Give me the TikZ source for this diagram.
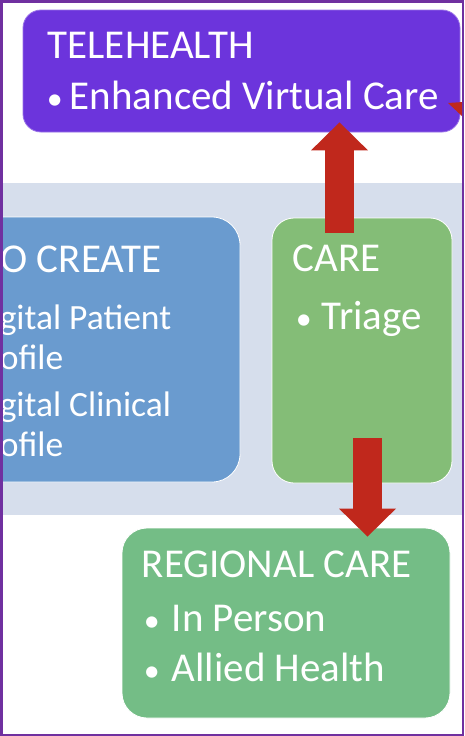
\documentclass[tikz,border=0pt]{standalone}
\usepackage{fontspec}
\setmainfont{Carlito}
\usepackage{xcolor}
\usepackage{tikz}
\usetikzlibrary{arrows.meta, positioning}

\definecolor{telepurple}{RGB}{108,52,220}
\definecolor{framepurple}{RGB}{112,48,160}
\definecolor{bandblue}{RGB}{214,222,236}
\definecolor{createblue}{RGB}{106,155,207}
\definecolor{caregreen}{RGB}{132,189,119}
\definecolor{regiongreen}{RGB}{116,189,134}
\definecolor{arrowred}{RGB}{192,40,28}

\newcommand{\bulmark}[1]{\makebox[#1][l]{\scalebox{0.78}{•}}}

\begin{document}
\begin{tikzpicture}[x=1pt, y=-1pt,
  panel/.style={draw=white, line width=0.8pt, inner sep=0pt},
  boxtext/.style={text=white, inner sep=0pt, anchor=base west,
                  font=\fontsize{41}{48}\selectfont},
  smalltext/.style={text=white, inner sep=0pt, anchor=base west,
                    font=\fontsize{35.5}{42}\selectfont},
  redarrow/.style={draw=arrowred, line width=29pt,
                   -{Triangle[length=28pt, width=57pt, line width=0pt]}}
]
\useasboundingbox (0,0) rectangle (464,736);
\begin{scope}
\clip (0,0) rectangle (464,736);

% Band behind the middle row
\node[fill=bandblue, inner sep=0pt, minimum width=470pt, minimum height=332pt]
  (band) at (232,349) {};

% To create (cut off at the left)
\node[panel, fill=createblue, rounded corners=28pt,
      minimum width=340pt, minimum height=265pt] (create) at (70,349.5) {};
\node[boxtext] (createT) at ([shift={(82,56)}]create.north west) {TO CREATE};
\node[smalltext] (createA) at ([shift={(45.5,113)}]create.north west)
  {\bulmark{24.5pt}Digital Patient};
\node[smalltext] (createA2) at ([shift={(70,153)}]create.north west) {Profile};
\node[smalltext] (createB) at ([shift={(45.5,200)}]create.north west)
  {\bulmark{24.5pt}Digital Clinical};
\node[smalltext] (createB2) at ([shift={(70,240)}]create.north west) {Profile};

% Care
\node[panel, fill=caregreen, rounded corners=22pt,
      minimum width=180pt, minimum height=265pt] (care) at (362,350.5) {};
\node[boxtext] (careT) at ([shift={(21,54)}]care.north west) {CARE};
\node[boxtext] (careA) at ([shift={(24,112)}]care.north west)
  {\bulmark{26pt}Triage};

% Telehealth
\node[panel, draw=telepurple!70!white, fill=telepurple, rounded corners=18pt,
      minimum width=437pt, minimum height=122pt] (tele) at (241.5,71) {};
\node[boxtext] (teleT) at ([shift={(25,49)}]tele.north west) {TELEHEALTH};
\node[boxtext] (teleA) at ([shift={(24,100)}]tele.north west)
  {\bulmark{23pt}Enhanced Virtual Care};

% Regional care
\node[panel, fill=regiongreen, rounded corners=25pt,
      minimum width=328pt, minimum height=190pt] (reg) at (286,623) {};
\node[boxtext] (regT) at ([shift={(20,50)}]reg.north west) {REGIONAL CARE};
\node[boxtext] (regA) at ([shift={(22,104)}]reg.north west)
  {\bulmark{28pt}In Person};
\node[boxtext] (regB) at ([shift={(22,154)}]reg.north west)
  {\bulmark{28pt}Allied Health};

% Arrows
\coordinate (upfoot) at ([xshift=-22.5pt, yshift=-15pt]care.north);
\coordinate (downfoot) at ([xshift=5.5pt, yshift=45pt]care.south);
\draw[redarrow, shorten >=-10pt] (upfoot) -- (upfoot |- tele.south);
\draw[redarrow, shorten >=-9pt] (downfoot) -- (downfoot |- reg.north);

% tip of an arrow coming in from the right
\fill[arrowred] (448,103) -- (463,102) -- (463,117) -- cycle;
\end{scope}

% Frame
\draw[framepurple, line width=2.5pt] (1.25,1.25) rectangle (462.75,734.75);
\end{tikzpicture}
\end{document}
